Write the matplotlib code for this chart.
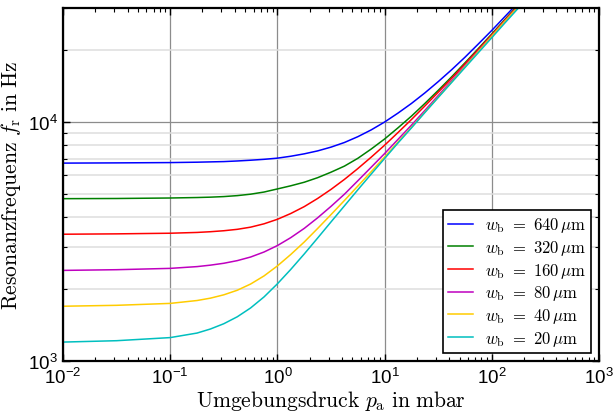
import matplotlib
matplotlib.use('Agg')
import matplotlib.pyplot as plt
from matplotlib.font_manager import FontProperties
from matplotlib import ticker

plt.rcParams['mathtext.fontset'] = 'custom'
plt.rcParams['mathtext.rm'] = 'Liberation Sans'
plt.rcParams['mathtext.it'] = 'Liberation Sans:italic'
plt.rcParams['mathtext.bf'] = 'Liberation Sans:bold'
plt.rcParams['font.family'] = 'Liberation Sans'

# Umgebungsdruck in mbar (Stützstellen)
p_a = [0.01, 0.0316, 0.1, 0.178, 0.237, 0.316, 0.422, 0.562, 0.75, 1.0,
       1.33, 1.78, 2.37, 3.16, 4.22, 5.62, 7.5, 10, 13.3, 17.8,
       23.7, 31.6, 42.2, 56.2, 75.0, 100, 133, 178]

# Resonanzfrequenz in Hz für die Balkenbreiten w_b
f_640 = [6730, 6745, 6765, 6790, 6810, 6830, 6870, 6920, 6980, 7060,
         7190, 7360, 7570, 7850, 8210, 8680, 9270, 10000, 10890, 11960,
         13230, 14750, 16550, 18670, 21230, 24180, 27670, 31740]
f_320 = [4778, 4786, 4809, 4831, 4848, 4875, 4920, 4989, 5093, 5248,
         5408, 5598, 5848, 6166, 6539, 7047, 7709, 8492, 9447, 10585,
         11947, 13558, 15458, 17690, 20310, 23365, 26915, 31049]
f_160 = [3392, 3404, 3425, 3451, 3475, 3508, 3556, 3631, 3750, 3917,
         4140, 4426, 4786, 5224, 5754, 6383, 7129, 7998, 9027, 10245,
         11663, 13316, 15241, 17498, 20120, 23172, 26722, 30851]
f_80 = [2394, 2410, 2441, 2483, 2518, 2564, 2630, 2723, 2858, 3041,
        3281, 3589, 3972, 4436, 4989, 5675, 6471, 7379, 8450, 9701,
        11169, 12897, 14894, 17199, 19861, 22939, 26485, 30582]
f_40 = [1695, 1710, 1742, 1791, 1832, 1892, 1977, 2099, 2270, 2500,
        2789, 3148, 3584, 4097, 4697, 5393, 6199, 7140, 8235, 9508,
        10996, 12714, 14723, 17052, 19747, 22876, 26451, 30513]
f_20 = [1200, 1216, 1253, 1309, 1361, 1432, 1531, 1667, 1854, 2104,
        2415, 2805, 3268, 3818, 4460, 5202, 6058, 7038, 8163, 9452,
        10947, 12659, 14641, 16904, 19522, 22542, 26029, 30061]

widths = ['640', '320', '160', '80', '40', '20']
series = [f_640, f_320, f_160, f_80, f_40, f_20]
colors = ['#0000ff', '#008000', '#ff0000', '#bf00bf', '#ffcc00', '#00bfbf']

fig = plt.figure(figsize=(6.13, 4.14), dpi=100)
ax = fig.add_axes([0.1028, 0.1256, 0.8744, 0.8527])

for w, f, c in zip(widths, series, colors):
    ax.plot(p_a, f, color=c, lw=1.1,
            label=r'$w_\mathrm{b}\ =\ ' + w + r'\,\mu\mathrm{m}$')

ax.set_xscale('log')
ax.set_yscale('log')
ax.set_xlim(1e-2, 1e3)
ax.set_ylim(1e3, 3e4)

ax.yaxis.set_minor_formatter(ticker.NullFormatter())
ax.xaxis.set_minor_locator(ticker.LogLocator(base=10, subs=range(2, 10)))
ax.xaxis.set_minor_formatter(ticker.NullFormatter())

ax.grid(True, which='major', axis='both', color='0.55', lw=0.9)
ax.grid(True, which='minor', axis='y', color='0.87', lw=1.1)
ax.set_axisbelow(True)

ax.tick_params(which='both', direction='in', top=True, right=True,
               labelsize=13.5, pad=4)
ax.tick_params(which='major', length=5, width=1)
ax.tick_params(which='minor', length=3, width=0.8)
for s in ax.spines.values():
    s.set_linewidth(1.6)

ax.set_xlabel(r'$\mathrm{Umgebungsdruck}\ p_\mathrm{a}\ \mathrm{in\ mbar}$',
              fontsize=15.5, math_fontfamily='cm', labelpad=1)
ax.set_ylabel(r'$\mathrm{Resonanzfrequenz}\ f_\mathrm{r}\ \mathrm{in\ Hz}$',
              fontsize=15.5, math_fontfamily='cm', labelpad=3)

leg = ax.legend(loc='lower right', prop=FontProperties(size=12, math_fontfamily='cm'),
                fancybox=False, framealpha=1, edgecolor='black',
                handlelength=1.5, handletextpad=0.7, borderaxespad=0.5,
                labelspacing=0.22, borderpad=0.3)
leg.get_frame().set_linewidth(1.2)

fig.savefig('out.png', dpi=100)
